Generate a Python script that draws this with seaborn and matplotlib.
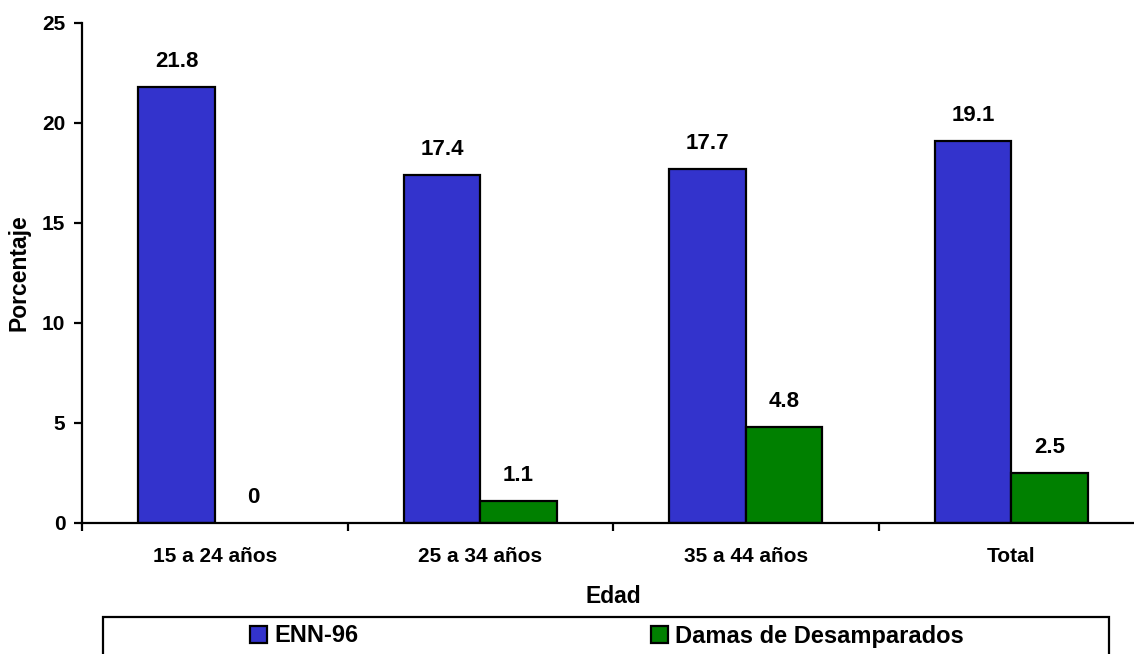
import matplotlib
matplotlib.use("Agg")
import matplotlib.pyplot as plt
from matplotlib.patches import Patch, Rectangle
import seaborn as sns
import pandas as pd

edades = ['15 a 24 años', '25 a 34 años', '35 a 44 años', 'Total']
enn96 = [21.8, 17.4, 17.7, 19.1]
damas = [0, 1.1, 4.8, 2.5]
series = ['ENN-96', 'Damas de Desamparados']
colores = ['#3333CC', '#008000']

df = pd.DataFrame({
    'Edad': edades * 2,
    'Porcentaje': enn96 + damas,
    'serie': [series[0]] * len(edades) + [series[1]] * len(edades),
})

sns.set_style('white')
plt.rcParams['font.family'] = ['Liberation Sans', 'DejaVu Sans']
plt.rcParams['font.weight'] = 'bold'
plt.rcParams['text.color'] = 'black'
plt.rcParams['axes.labelcolor'] = 'black'
plt.rcParams['xtick.color'] = 'black'
plt.rcParams['ytick.color'] = 'black'

W, H = 1134, 654
fig = plt.figure(figsize=(W / 100, H / 100), dpi=100)
ax = fig.add_axes([82 / W, 131 / H, 1062 / W, 500 / H])

sns.barplot(df, x='Edad', y='Porcentaje', hue='serie', order=edades,
            hue_order=series, palette=colores, width=0.575,
            edgecolor='black', linewidth=1.6, saturation=1, ax=ax, legend=False)

for cont in ax.containers:
    for bar in cont:
        h = bar.get_height()
        if h == 0:
            bar.set_linewidth(0)
        ax.annotate(f'{h:g}', (bar.get_x() + bar.get_width() / 2, h),
                    xytext=(0, 11), textcoords='offset points',
                    ha='center', va='bottom', fontsize=16, fontweight='bold')

ax.set_xlim(-0.5, 3.5)
ax.set_ylim(0, 25)
ax.set_yticks([0, 5, 10, 15, 20, 25])
ax.set_xticks([-0.5, 0.5, 1.5, 2.5, 3.5], minor=True)
ax.tick_params(axis='x', which='major', bottom=True, length=0, pad=17, labelsize=15)
ax.tick_params(axis='x', which='minor', bottom=True, length=6, width=1.6, direction='out')
ax.tick_params(axis='y', left=True, length=6, width=1.6, direction='out', pad=6, labelsize=15)
for lab in ax.get_xticklabels() + ax.get_yticklabels():
    lab.set_fontweight('bold')

ax.set_xlabel('Edad', fontsize=16.5, fontweight='bold', labelpad=14)
ax.set_ylabel('Porcentaje', fontsize=16.5, fontweight='bold', labelpad=8)
sns.despine(ax=ax)
for s in ['left', 'bottom']:
    ax.spines[s].set_linewidth(1.6)
    ax.spines[s].set_color('black')

handles = [Patch(facecolor=c, edgecolor='black', linewidth=1.6) for c in colores]
fig.legend(handles, series, ncol=2, loc='center left',
           bbox_to_anchor=(250 / W, 1 - 636 / H), frameon=False,
           borderpad=0, borderaxespad=0, handlelength=0.72, handleheight=0.72,
           handletextpad=0.3, columnspacing=12.4,
           prop={'size': 17, 'weight': 'bold'})

fig.patches.append(Rectangle((103 / W, -0.01), 1006 / W, (H - 617) / H + 0.01,
                             transform=fig.transFigure, fill=False,
                             edgecolor='black', linewidth=1.6))

fig.savefig('out.png', dpi=100)
